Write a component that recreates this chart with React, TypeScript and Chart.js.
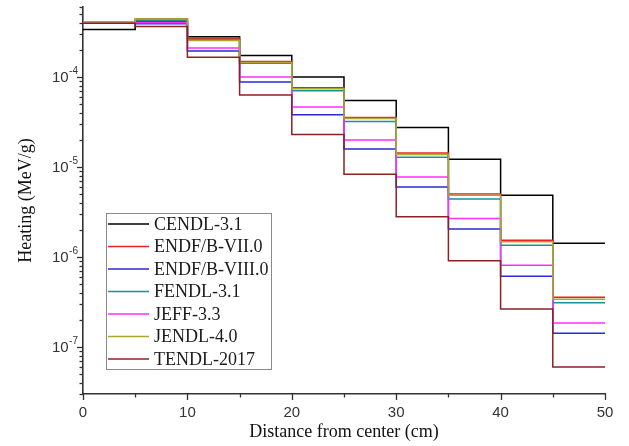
import React, { useEffect, useRef } from 'react';
import { Chart, registerables } from 'chart.js';

Chart.register(...registerables);

// Bin edges along the distance axis (cm)
const binEdges = [0, 5, 10, 15, 20, 25, 30, 35, 40, 45, 50];

const seriesNames = ['CENDL-3.1', 'ENDF/B-VII.0', 'ENDF/B-VIII.0', 'FENDL-3.1', 'JEFF-3.3', 'JENDL-4.0', 'TENDL-2017'];
const seriesColors = ['#000000', '#e8231f', '#2a2ad6', '#1f8f8f', '#ff2eff', '#a8a82e', '#8b2222'];

// Heating per bin (MeV/g)
const cendl = [3.38e-4, 4.2e-4, 2.8e-4, 1.73e-4, 1.0e-4, 5.5e-5, 2.74e-5, 1.22e-5, 4.84e-6, 1.42e-6];
const endfb7 = [4.05e-4, 4.4e-4, 2.7e-4, 1.49e-4, 7.6e-5, 3.56e-5, 1.43e-5, 5.0e-6, 1.53e-6, 3.56e-7];
const endfb8 = [3.95e-4, 3.9e-4, 1.94e-4, 8.8e-5, 3.81e-5, 1.58e-5, 6.0e-6, 2.05e-6, 6.1e-7, 1.42e-7];
const fendl = [4.0e-4, 4.25e-4, 2.62e-4, 1.42e-4, 7.05e-5, 3.2e-5, 1.28e-5, 4.41e-6, 1.35e-6, 3.1e-7];
const jeff = [4.0e-4, 4.0e-4, 2.1e-4, 1.0e-4, 4.64e-5, 2.0e-5, 7.74e-6, 2.67e-6, 8.1e-7, 1.85e-7];
const jendl = [4.1e-4, 4.4e-4, 2.55e-4, 1.45e-4, 7.4e-5, 3.45e-5, 1.38e-5, 4.85e-6, 1.48e-6, 3.4e-7];
const tendl = [3.95e-4, 3.65e-4, 1.66e-4, 6.3e-5, 2.29e-5, 8.3e-6, 2.8e-6, 9.1e-7, 2.64e-7, 6.0e-8];

const seriesValues = [cendl, endfb7, endfb8, fendl, jeff, jendl, tendl];

const xTickValues = [0, 10, 20, 30, 40, 50];
const xMinorTickValues = [5, 15, 25, 35, 45];
const yDecadeExponents = [-7, -6, -5, -4];

const xTitle = 'Distance from center (cm)';
const yTitle = 'Heating (MeV/g)';

const Y_MIN = 3e-8;
const Y_MAX = 6e-4;

function toSteps(vals: number[]) {
  const pts = vals.map((v, i) => ({ x: binEdges[i], y: v }));
  pts.push({ x: binEdges[vals.length], y: vals[vals.length - 1] });
  return pts;
}

const SERIF = '"Liberation Serif", "Times New Roman", serif';
const SANS = '"Liberation Sans", Arial, sans-serif';

const decorPlugin = {
  id: 'decor',
  afterDraw(chart: any) {
    const ctx = chart.ctx as CanvasRenderingContext2D;
    const xs = chart.scales.x;
    const ys = chart.scales.y;
    const area = chart.chartArea;
    ctx.save();
    ctx.strokeStyle = '#333';
    ctx.lineWidth = 1.3;
    // x ticks
    for (const v of xTickValues) {
      const px = Math.round(xs.getPixelForValue(v)) + 0.5;
      ctx.beginPath();
      ctx.moveTo(px, area.bottom);
      ctx.lineTo(px, area.bottom + 6);
      ctx.stroke();
    }
    for (const v of xMinorTickValues) {
      const px = Math.round(xs.getPixelForValue(v)) + 0.5;
      ctx.beginPath();
      ctx.moveTo(px, area.bottom);
      ctx.lineTo(px, area.bottom + 3.5);
      ctx.stroke();
    }
    // y ticks
    for (let k = -8; k <= -3; k++) {
      for (let m = 1; m <= 9; m++) {
        const v = m * Math.pow(10, k);
        if (v < Y_MIN * 0.999 || v > Y_MAX * 1.001) continue;
        const py = Math.round(ys.getPixelForValue(v)) + 0.5;
        ctx.beginPath();
        ctx.moveTo(area.left, py);
        ctx.lineTo(area.left - (m === 1 ? 6 : 3.5), py);
        ctx.stroke();
      }
    }
    // x tick labels
    ctx.fillStyle = '#333';
    ctx.font = `15px ${SANS}`;
    ctx.textAlign = 'center';
    ctx.textBaseline = 'middle';
    for (const v of xTickValues) {
      ctx.fillText(String(v), xs.getPixelForValue(v), area.bottom + 19);
    }
    // y tick labels 10^n
    for (const e of yDecadeExponents) {
      const py = ys.getPixelForValue(Math.pow(10, e));
      const sup = '-' + String(-e);
      ctx.font = `10px ${SANS}`;
      const supW = ctx.measureText(sup).width;
      const right = area.left - 5;
      ctx.textAlign = 'right';
      ctx.textBaseline = 'middle';
      ctx.fillText(sup, right, py - 6);
      ctx.font = `15px ${SANS}`;
      ctx.fillText('10', right - supW - 0.5, py + 1);
    }
    // axis titles
    ctx.fillStyle = '#111';
    ctx.font = `18px ${SERIF}`;
    ctx.textAlign = 'center';
    ctx.textBaseline = 'middle';
    ctx.fillText(xTitle, (area.left + area.right) / 2, area.bottom + 38);
    ctx.save();
    ctx.translate(26, (area.top + area.bottom) / 2);
    ctx.rotate(-Math.PI / 2);
    ctx.fillText(yTitle, 0, 0);
    ctx.restore();

    // legend
    const lx = 106, ly = 213, lw = 165, lh = 156;
    ctx.fillStyle = '#ffffff';
    ctx.fillRect(lx, ly, lw, lh);
    ctx.strokeStyle = '#8a8a8a';
    ctx.lineWidth = 1;
    ctx.strokeRect(lx + 0.5, ly + 0.5, lw, lh);
    ctx.font = `18px ${SERIF}`;
    ctx.textAlign = 'left';
    ctx.textBaseline = 'middle';
    seriesNames.forEach((name, i) => {
      const cy = ly + 11 + i * 22.5;
      ctx.strokeStyle = seriesColors[i];
      ctx.lineWidth = 1.5;
      ctx.beginPath();
      ctx.moveTo(lx + 2, cy);
      ctx.lineTo(lx + 43, cy);
      ctx.stroke();
      ctx.fillStyle = '#1a1a1a';
      ctx.fillText(name, lx + 48, cy + 1);
    });
    ctx.restore();
  },
};

export default function App() {
  const canvasRef = useRef<HTMLCanvasElement | null>(null);

  useEffect(() => {
    document.body.style.margin = '0';
    document.body.style.overflow = 'hidden';
    const canvas = canvasRef.current;
    if (!canvas) return;
    const chart = new Chart(canvas, {
      type: 'line',
      data: {
        datasets: seriesNames.map((name, i) => ({
          label: name,
          data: toSteps(seriesValues[i]),
          borderColor: seriesColors[i],
          backgroundColor: seriesColors[i],
          borderWidth: 1.5,
          pointRadius: 0,
          stepped: 'before' as const,
          fill: false,
          order: seriesNames.length - i,
        })),
      },
      options: {
        responsive: false,
        animation: false,
        devicePixelRatio: 1,
        layout: { padding: { top: 7, right: 24, left: 0, bottom: 0 } },
        plugins: {
          legend: { display: false },
          tooltip: { enabled: false },
        },
        scales: {
          x: {
            type: 'linear',
            min: 0,
            max: 50,
            grid: { display: false },
            ticks: { display: false },
            border: { display: true, color: '#333', width: 1.6 },
            afterFit: (scale: any) => {
              scale.height = 52;
            },
          },
          y: {
            type: 'logarithmic',
            min: Y_MIN,
            max: Y_MAX,
            grid: { display: false },
            ticks: { display: false },
            border: { display: true, color: '#333', width: 1.6 },
            afterFit: (scale: any) => {
              scale.width = 83;
            },
          },
        },
      },
      plugins: [decorPlugin],
    });
    return () => chart.destroy();
  }, []);

  return (
    <div style={{ width: 629, height: 446 }}>
      <canvas ref={canvasRef} width={629} height={446} style={{ display: 'block' }} />
    </div>
  );
}
